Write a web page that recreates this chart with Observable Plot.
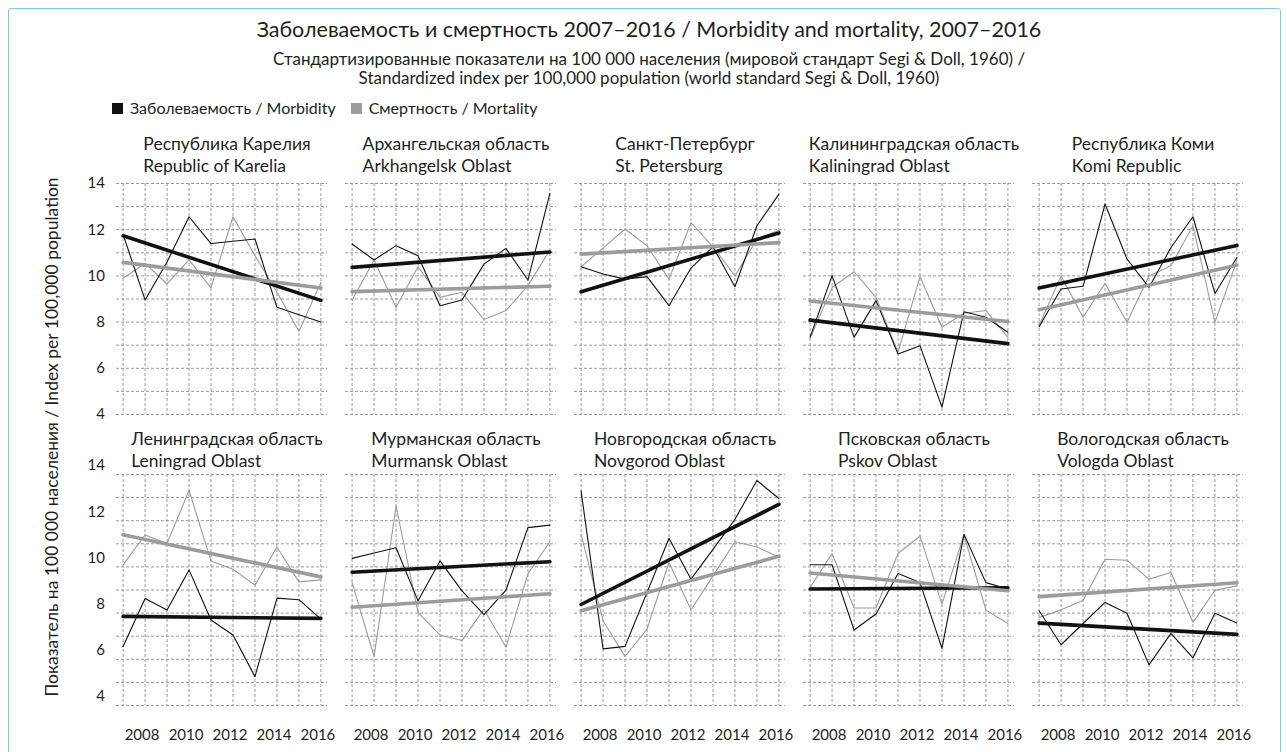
<!DOCTYPE html>
<html>
<head>
<meta charset="utf-8">
<script src="https://cdn.jsdelivr.net/npm/d3@7"></script>
<script src="https://cdn.jsdelivr.net/npm/@observablehq/plot@0.6"></script>
<style>
  body { margin: 0; background: #fff; font-family: Lato, "Open Sans", sans-serif; color: #231f20; }
  #page { position: relative; width: 1287px; height: 752px; overflow: hidden; }
  #border { position: absolute; left: 8px; top: 8px; width: 1273px; height: 780px; border: 1.5px solid #79c9ee; border-radius: 3px; box-sizing: border-box; pointer-events: none; }
  #header { position: relative; height: 125px; }
  .hline { position: absolute; left: 0; width: 1298px; text-align: center; line-height: 1; white-space: nowrap; }
  #title { top: 19px; font-size: 21.5px; }
  #sub1 { top: 50px; font-size: 17px; }
  #sub2 { top: 69px; font-size: 17px; }
  #legend { position: absolute; top: 100px; left: 112px; font-size: 16px; line-height: 1; white-space: nowrap; display: flex; align-items: center; }
  .sw { display: inline-block; width: 11px; height: 11px; margin-right: 7px; }
  .item { display: flex; align-items: center; margin-right: 15px; }
  #ytitle { position: absolute; left: 52px; top: 437px; transform: translate(-50%, -50%) rotate(-90deg); font-size: 17.5px; white-space: nowrap; line-height: 1; }
  #chart { position: absolute; left: 0; top: 125px; }
</style>
</head>
<body>
<div id="page">
  <div id="header">
    <div id="title" class="hline">Заболеваемость и смертность 2007–2016 / Morbidity and mortality, 2007–2016</div>
    <div id="sub1" class="hline">Стандартизированные показатели на 100 000 населения (мировой стандарт Segi &amp; Doll, 1960) /</div>
    <div id="sub2" class="hline">Standardized index per 100,000 population (world standard Segi &amp; Doll, 1960)</div>
    <div id="legend"></div>
  </div>
  <div id="chart"></div>
  <div id="ytitle">Показатель на 100 000 населения / Index per 100,000 population</div>
  <div id="border"></div>
</div>
<script>
// ---------- data ----------
const years = [2007, 2008, 2009, 2010, 2011, 2012, 2013, 2014, 2015, 2016];
const xTickLabels = [2008, 2010, 2012, 2014, 2016];
const yTickLabels = [4, 6, 8, 10, 12, 14];
const yGridValues = [4, 5, 6, 7, 8, 9, 10, 11, 12, 13, 14];

const seriesNames = ["Заболеваемость / Morbidity", "Смертность / Mortality"];
const seriesColors = ["#111111", "#9c9c9c"];

const regionsRu = ["Республика Карелия", "Архангельская область", "Санкт-Петербург", "Калининградская область", "Республика Коми",
                   "Ленинградская область", "Мурманская область", "Новгородская область", "Псковская область", "Вологодская область"];
const regionsEn = ["Republic of Karelia", "Arkhangelsk Oblast", "St. Petersburg", "Kaliningrad Oblast", "Komi Republic",
                   "Leningrad Oblast", "Murmansk Oblast", "Novgorod Oblast", "Pskov Oblast", "Vologda Oblast"];

// Morbidity (Заболеваемость), 2007–2016
const morbKarelia      = [11.8, 8.96, 10.6, 12.56, 11.4, 11.5, 11.6, 8.64, 8.32, 8.0];
const morbArkhangelsk  = [11.38, 10.69, 11.31, 10.87, 8.71, 8.96, 10.51, 11.19, 9.82, 13.57];
const morbStPetersburg = [10.4, 10.08, 9.86, 9.97, 8.71, 10.34, 11.26, 9.53, 12.17, 13.54];
const morbKaliningrad  = [7.35, 10.01, 7.34, 8.93, 6.62, 6.98, 4.32, 8.45, 8.21, 7.56];
const morbKomi         = [7.8, 9.43, 9.55, 13.11, 10.73, 9.5, 11.23, 12.56, 9.24, 10.8];
const morbLeningrad    = [6.55, 8.63, 8.13, 9.87, 7.7, 7.05, 5.25, 8.65, 8.58, 7.74];
const morbMurmansk     = [10.37, 10.6, 10.83, 8.53, 10.26, 8.96, 7.93, 8.99, 11.7, 11.81];
const morbNovgorod     = [13.28, 6.45, 6.56, 8.89, 11.24, 9.47, 10.76, 12.06, 13.74, 12.96];
const morbPskov        = [10.09, 10.09, 7.27, 7.96, 9.71, 9.32, 6.47, 11.41, 9.32, 9.04];
const morbVologda      = [8.1, 6.63, 7.55, 8.46, 7.99, 5.76, 7.12, 6.06, 7.99, 7.57];

// Mortality (Смертность), 2007–2016
const mortKarelia      = [9.9, 10.54, 9.65, 10.69, 9.48, 12.56, 10.87, 9.29, 7.6, 9.72];
const mortArkhangelsk  = [8.96, 10.69, 8.64, 10.4, 9.07, 9.29, 8.11, 8.5, 9.58, 11.12];
const mortStPetersburg = [10.4, 11.2, 12.03, 11.3, 9.86, 12.31, 11.26, 10.0, 11.59, 11.98];
const mortKaliningrad  = [7.3, 9.5, 10.18, 9.07, 6.69, 9.97, 7.78, 8.38, 8.5, 7.34];
const mortKomi         = [7.85, 10.0, 8.21, 9.68, 7.99, 10.0, 10.44, 12.17, 7.99, 10.66];
const mortLeningrad    = [10.09, 11.38, 11.01, 13.31, 10.26, 9.9, 9.21, 10.86, 9.35, 9.44];
const mortMurmansk     = [9.32, 6.12, 12.63, 8.03, 7.05, 6.81, 8.17, 6.52, 9.71, 11.09];
const mortNovgorod     = [11.41, 7.67, 6.12, 7.31, 10.19, 8.14, 9.61, 11.09, 10.86, 10.43];
const mortPskov        = [9.11, 10.58, 8.22, 8.22, 10.58, 11.34, 8.39, 11.38, 8.13, 7.55];
const mortVologda      = [7.81, 8.14, 8.56, 10.33, 10.29, 9.47, 9.76, 7.6, 8.99, 9.18];

const morbidity = [morbKarelia, morbArkhangelsk, morbStPetersburg, morbKaliningrad, morbKomi,
                   morbLeningrad, morbMurmansk, morbNovgorod, morbPskov, morbVologda];
const mortality = [mortKarelia, mortArkhangelsk, mortStPetersburg, mortKaliningrad, mortKomi,
                   mortLeningrad, mortMurmansk, mortNovgorod, mortPskov, mortVologda];

// ---------- table ----------
const regions = regionsRu.map((ru, i) => ({ru, en: regionsEn[i], col: i % 5, row: Math.floor(i / 5)}));
const rows = [];
regions.forEach((r, i) => {
  years.forEach((year, j) => {
    rows.push({region: i, col: r.col, row: r.row, year, series: 0, value: morbidity[i][j]});
    rows.push({region: i, col: r.col, row: r.row, year, series: 1, value: mortality[i][j]});
  });
});
const morbRows = rows.filter(d => d.series === 0);
const mortRows = rows.filter(d => d.series === 1);

// ---------- legend ----------
const legend = document.getElementById("legend");
seriesNames.forEach((name, i) => {
  const item = document.createElement("span");
  item.className = "item";
  item.innerHTML = `<span class="sw" style="background:${seriesColors[i]}"></span>${name}`;
  legend.appendChild(item);
});

// ---------- panel titles: two left-aligned lines, centred as a block ----------
const titleSize = 17.5;
const ctx = document.createElement("canvas").getContext("2d");
ctx.font = `${titleSize}px Lato`;
const blockWidth = r => Math.max(ctx.measureText(r.ru).width, ctx.measureText(r.en).width);

const titleMarks = regions.map(r => Plot.text([r], {
  fx: "col", fy: "row",
  text: d => d.ru + "\n" + d.en,
  frameAnchor: "top", textAnchor: "start", lineAnchor: "bottom",
  lineHeight: 1.22, dx: 5 - blockWidth(r) / 2, dy: r.row === 0 ? -12 : -8,
  fontSize: titleSize, fill: "#231f20"
}));

// y tick labels only on the left column (bottom row labels sit a little higher in the original)
const yLabelMarks = [0, 1].map(row => Plot.text(yTickLabels, {
  fx: () => 0, fy: () => row,
  y: d => d, text: d => String(d),
  frameAnchor: "left", textAnchor: "end", dx: -11.5, dy: row === 0 ? 0 : -9,
  fontSize: 15, fill: "#231f20"
}));

const chart = Plot.plot({
  width: 1287,
  height: 627,
  marginLeft: 115,
  marginRight: 43.5,
  marginTop: 57.7,
  marginBottom: 46.5,
  style: {fontFamily: "Lato, 'Open Sans', sans-serif", fontSize: "15px", color: "#231f20", background: "white"},
  fx: {axis: null, domain: [0, 1, 2, 3, 4], paddingInner: 0.0785},
  fy: {axis: null, domain: [0, 1], paddingInner: 0.2053},
  x: {domain: [2006.7, 2016.3]},
  y: {domain: [4, 14], axis: null},
  marks: [
    Plot.ruleY(yGridValues, {stroke: "#9a9a9a", strokeWidth: 1, strokeDasharray: "3,2"}),
    Plot.ruleX(years, {stroke: "#9a9a9a", strokeWidth: 1, strokeDasharray: "3,2"}),
    Plot.line(mortRows, {x: "year", y: "value", z: "region", fx: "col", fy: "row", stroke: seriesColors[1], strokeWidth: 1.1}),
    Plot.line(morbRows, {x: "year", y: "value", z: "region", fx: "col", fy: "row", stroke: seriesColors[0], strokeWidth: 1.1}),
    Plot.linearRegressionY(morbRows, {x: "year", y: "value", fx: "col", fy: "row", stroke: seriesColors[0], strokeWidth: 3.6, ci: 0}),
    Plot.linearRegressionY(mortRows, {x: "year", y: "value", fx: "col", fy: "row", stroke: seriesColors[1], strokeWidth: 3.6, ci: 0}),
    ...yLabelMarks,
    Plot.axisX({ticks: xTickLabels, anchor: "bottom", tickSize: 0, tickPadding: 24, dx: -3, tickFormat: d => String(d), fontSize: 15, label: null}),
    ...titleMarks
  ]
});
document.getElementById("chart").appendChild(chart);
</script>
</body>
</html>
